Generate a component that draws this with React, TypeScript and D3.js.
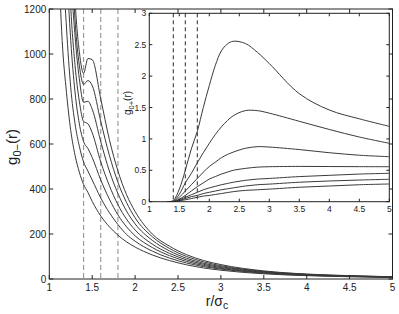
import React from "react";
import * as d3 from "d3";

const W = 399, H = 314;

// Main plot data: g0-(r)
const rMain = [1.1, 1.15, 1.2, 1.25, 1.3, 1.35, 1.4, 1.45, 1.5, 1.6, 1.7, 1.8, 1.9, 2.0, 2.2, 2.4, 2.6, 2.8, 3.0, 3.5, 4.0, 4.5, 5.0];
const gMinus0 = [1500, 1060, 830, 660, 550, 475, 420, 385, 345, 280, 232, 195, 165, 142, 107, 82, 63, 49, 39, 23, 15, 10, 7];
const gMinus1 = [2300, 1500, 1120, 850, 690, 590, 520, 480, 440, 360, 295, 242, 198, 168, 124, 93, 71, 55, 44, 26, 16, 11, 7.5];
const gMinus2 = [3000, 2000, 1420, 1060, 830, 690, 610, 580, 540, 440, 355, 285, 232, 192, 140, 104, 78, 60, 47, 28, 17, 12, 8];
const gMinus3 = [3500, 2400, 1700, 1210, 950, 790, 700, 690, 650, 520, 415, 330, 266, 218, 155, 114, 85, 65, 51, 30, 18.5, 12.5, 8.5];
const gMinus4 = [4000, 2800, 1950, 1380, 1080, 890, 785, 790, 755, 610, 480, 380, 302, 245, 172, 125, 92, 70, 55, 32, 20, 13, 9];
const gMinus5 = [4500, 3100, 2200, 1550, 1150, 950, 865, 882, 860, 700, 550, 430, 340, 272, 188, 136, 100, 76, 59, 34, 21, 14, 9.5];
const gMinus6 = [5000, 3500, 2400, 1700, 1240, 1010, 914, 980, 975, 800, 620, 480, 375, 300, 200, 146, 108, 82, 64, 36, 22, 15, 10];
const mainSeries = [gMinus0, gMinus1, gMinus2, gMinus3, gMinus4, gMinus5, gMinus6];

// Inset data: g0+(r)
const rInset = [1.3, 1.4, 1.5, 1.6, 1.7, 1.8, 1.9, 2.0, 2.1, 2.2, 2.3, 2.4, 2.6, 2.8, 3.0, 3.5, 4.0, 4.5, 5.0];
const gPlus0 = [0, 0.02, 0.2, 0.5, 0.84, 1.12, 1.5, 1.85, 2.17, 2.4, 2.51, 2.555, 2.52, 2.38, 2.2, 1.72, 1.46, 1.32, 1.2];
const gPlus1 = [0, 0.01, 0.12, 0.3, 0.45, 0.62, 0.78, 0.93, 1.07, 1.19, 1.29, 1.37, 1.45, 1.45, 1.41, 1.28, 1.15, 1.03, 0.93];
const gPlus2 = [0, 0.005, 0.07, 0.17, 0.27, 0.37, 0.47, 0.56, 0.63, 0.7, 0.75, 0.79, 0.85, 0.876, 0.87, 0.83, 0.78, 0.74, 0.717];
const gPlus3 = [0, 0, 0.04, 0.1, 0.17, 0.24, 0.3, 0.36, 0.4, 0.44, 0.47, 0.5, 0.53, 0.55, 0.557, 0.562, 0.56, 0.558, 0.557];
const gPlus4 = [0, 0, 0.03, 0.07, 0.11, 0.15, 0.19, 0.22, 0.245, 0.27, 0.29, 0.31, 0.34, 0.36, 0.37, 0.4, 0.42, 0.44, 0.452];
const gPlus5 = [0, 0, 0.02, 0.05, 0.08, 0.1, 0.13, 0.15, 0.17, 0.19, 0.205, 0.22, 0.25, 0.27, 0.28, 0.31, 0.33, 0.345, 0.357];
const gPlus6 = [0, 0, 0.015, 0.03, 0.05, 0.07, 0.09, 0.1, 0.115, 0.13, 0.145, 0.16, 0.18, 0.19, 0.2, 0.23, 0.25, 0.27, 0.282];
const insetSeries = [gPlus0, gPlus1, gPlus2, gPlus3, gPlus4, gPlus5, gPlus6];

const dashedR = [1.4, 1.6, 1.8];
const mainXTicks = [1, 1.5, 2, 2.5, 3, 3.5, 4, 4.5, 5];
const mainYTicks = [0, 200, 400, 600, 800, 1000, 1200];
const insetXTicks = [1, 1.5, 2, 2.5, 3, 3.5, 4, 4.5, 5];
const insetYTicks = [0, 0.5, 1, 1.5, 2, 2.5, 3];

const FONT = "Liberation Sans, Arial, Helvetica, sans-serif";
const CURVE = "#3a3a3a";

export default function App() {
  const m = { l: 49.3, r: 392.5, t: 9, b: 279 };
  const x = d3.scaleLinear().domain([1, 5]).range([m.l, m.r]);
  const y = d3.scaleLinear().domain([0, 1200]).range([m.b, m.t]);

  const ins = { l: 149.3, r: 389.3, t: 13.3, b: 201.7 };
  const xi = d3.scaleLinear().domain([1, 5]).range([ins.l, ins.r]);
  const yi = d3.scaleLinear().domain([0, 3]).range([ins.b, ins.t]);

  const lineMain = d3
    .line<number>()
    .x((_, i) => x(rMain[i]))
    .y((v) => y(v))
    .curve(d3.curveMonotoneX);
  const lineInset = d3
    .line<number>()
    .x((_, i) => xi(rInset[i]))
    .y((v) => yi(v))
    .curve(d3.curveCatmullRom.alpha(0.5));

  const tk = 4;

  return (
    <svg
      width={W}
      height={H}
      style={{ position: "absolute", left: 0, top: 0, background: "#fff" }}
      fontFamily={FONT}
    >
      <defs>
        <clipPath id="mainClip">
          <rect x={m.l} y={m.t} width={m.r - m.l} height={m.b - m.t} />
        </clipPath>
        <clipPath id="insetClip">
          <rect x={ins.l} y={ins.t} width={ins.r - ins.l} height={ins.b - ins.t} />
        </clipPath>
      </defs>
      <rect x={0} y={0} width={W} height={H} fill="#fff" />

      {dashedR.map((r) => (
        <line key={"md" + r} x1={x(r)} x2={x(r)} y1={m.t} y2={m.b} stroke="#888" strokeWidth={1} strokeDasharray="5,3" />
      ))}

      <g clipPath="url(#mainClip)">
        {mainSeries.map((s, i) => (
          <path key={"mc" + i} d={lineMain(s) || ""} fill="none" stroke={CURVE} strokeWidth={1} />
        ))}
      </g>

      <rect x={m.l} y={m.t} width={m.r - m.l} height={m.b - m.t} fill="none" stroke="#222" strokeWidth={1} />
      {mainXTicks.map((t) => (
        <g key={"mx" + t}>
          <line x1={x(t)} x2={x(t)} y1={m.b} y2={m.b - tk} stroke="#222" />
          <line x1={x(t)} x2={x(t)} y1={m.t} y2={m.t + tk} stroke="#222" />
          <text x={x(t)} y={m.b + 11.5} fontSize={10} textAnchor="middle" fill="#222">{t}</text>
        </g>
      ))}
      {mainYTicks.map((t) => (
        <g key={"my" + t}>
          <line x1={m.l} x2={m.l + tk} y1={y(t)} y2={y(t)} stroke="#222" />
          <line x1={m.r} x2={m.r - tk} y1={y(t)} y2={y(t)} stroke="#222" />
          <text x={m.l - 3} y={y(t) + 3.5} fontSize={10} textAnchor="end" fill="#222">{t}</text>
        </g>
      ))}
      <text x={217} y={305.5} fontSize={14} textAnchor="middle" fill="#222">
        r/σ<tspan fontSize={10.5} dy={3}>c</tspan>
      </text>
      <text transform="translate(17,147) rotate(-90)" fontSize={15} textAnchor="middle" fill="#222">
        g<tspan fontSize={11} dy={4}>0−</tspan><tspan dy={-4}>(r)</tspan>
      </text>

      <rect x={ins.l} y={ins.t} width={ins.r - ins.l} height={ins.b - ins.t} fill="#fff" />
      {dashedR.map((r) => (
        <line key={"id" + r} x1={xi(r)} x2={xi(r)} y1={ins.t} y2={ins.b} stroke="#111" strokeWidth={0.9} strokeDasharray="4,3" />
      ))}
      <g clipPath="url(#insetClip)">
        {insetSeries.map((s, i) => (
          <path key={"ic" + i} d={lineInset(s) || ""} fill="none" stroke={CURVE} strokeWidth={1} />
        ))}
      </g>
      <rect x={ins.l} y={ins.t} width={ins.r - ins.l} height={ins.b - ins.t} fill="none" stroke="#222" strokeWidth={1} />
      {insetXTicks.map((t) => (
        <g key={"ix" + t}>
          <line x1={xi(t)} x2={xi(t)} y1={ins.b} y2={ins.b - 3} stroke="#222" />
          <line x1={xi(t)} x2={xi(t)} y1={ins.t} y2={ins.t + 3} stroke="#222" />
          <text x={xi(t)} y={ins.b + 10} fontSize={8.5} textAnchor="middle" fill="#222">{t}</text>
        </g>
      ))}
      {insetYTicks.map((t) => (
        <g key={"iy" + t}>
          <line x1={ins.l} x2={ins.l + 3} y1={yi(t)} y2={yi(t)} stroke="#222" />
          <line x1={ins.r} x2={ins.r - 3} y1={yi(t)} y2={yi(t)} stroke="#222" />
          <text x={ins.l - 3} y={yi(t) + 3} fontSize={8.5} textAnchor="end" fill="#222">{t}</text>
        </g>
      ))}
      <text transform="translate(131,103) rotate(-90)" fontSize={10} textAnchor="middle" fill="#222">
        g<tspan fontSize={7.5} dy={3}>0+</tspan><tspan dy={-3}>(r)</tspan>
      </text>
    </svg>
  );
}
